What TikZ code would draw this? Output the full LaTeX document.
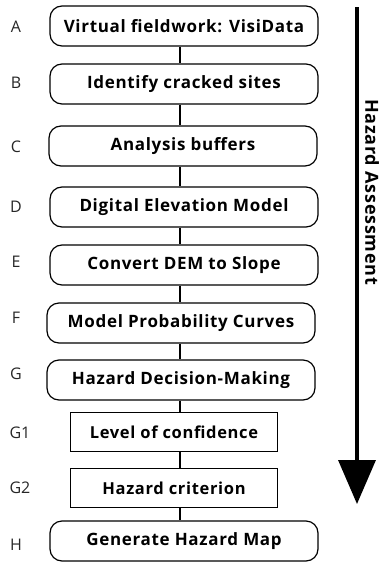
\documentclass[tikz,border=0pt]{standalone}
\usepackage{fontspec}
\setmainfont{Open Sans}
\newfontfamily\boxfont{Open Sans}[LetterSpace=4]
\usetikzlibrary{arrows.meta}

\tikzset{
  stepround/.style={draw, line width=1.2pt, rounded corners=12pt, minimum width=268pt, minimum height=40pt, inner sep=0pt, font=\boxfont\bfseries\fontsize{17}{19}\selectfont},
  steprect/.style={draw, line width=1.2pt, minimum width=207pt, minimum height=39pt, inner sep=0pt, font=\boxfont\bfseries\fontsize{16.5}{19}\selectfont},
  steptag/.style={font=\fontsize{16}{18}\selectfont, text=black!85},
  link/.style={line width=1.2pt}
}

\begin{document}
\begin{tikzpicture}[x=1pt,y=-1pt]
\useasboundingbox (0,0) rectangle (381,565);

% steps of the workflow
\node[stepround] (A)  at (184,26)  {Virtual fieldwork: VisiData};
\node[stepround] (B)  at (184,84)  {Identify cracked sites};
\node[stepround] (C)  at (183,146) {Analysis buffers};
\node[stepround] (D)  at (184,207) {Digital Elevation Model};
\node[stepround] (E)  at (184,265) {Convert DEM to Slope};
\node[stepround] (F)  at (181,323) {Model Probability Curves};
\node[stepround] (G)  at (181,380) {Hazard Decision-Making};
\node[steprect]  (G1) at (174,432) {Level of confidence};
\node[steprect]  (G2) at (174,488) {Hazard criterion};
\node[stepround] (H)  at (184,541) {Generate Hazard Map};

% tags on the left
\node[steptag] (tA)  at (16,27)  {A};
\node[steptag] (tB)  at (16,83)  {B};
\node[steptag] (tC)  at (16,147) {C};
\node[steptag] (tD)  at (16,207) {D};
\node[steptag] (tE)  at (16,262) {E};
\node[steptag] (tF)  at (16,318) {F};
\node[steptag] (tG)  at (16,374) {G};
\node[steptag] (tG1) at (20,433) {G1};
\node[steptag] (tG2) at (20,488) {G2};
\node[steptag] (tH)  at (16,545) {H};

% links
\coordinate (axis) at (180,0);
\foreach \a/\b in {A/B,B/C,C/D,D/E,E/F,F/G,G/G1,G1/G2,G2/H}
  \draw[link] (\a.south -| axis) -- (\b.north -| axis);

% hazard assessment arrow
\coordinate (top) at (357,7);
\coordinate (tip) at (357,504);
\draw[line width=3.5pt, -{Triangle[width=37pt,length=44pt]}] (top) -- (tip);
\node[rotate=-90, font=\boxfont\bfseries\fontsize{18}{20}\selectfont] (lab) at (372,192) {Hazard Assessment};
\end{tikzpicture}
\end{document}
